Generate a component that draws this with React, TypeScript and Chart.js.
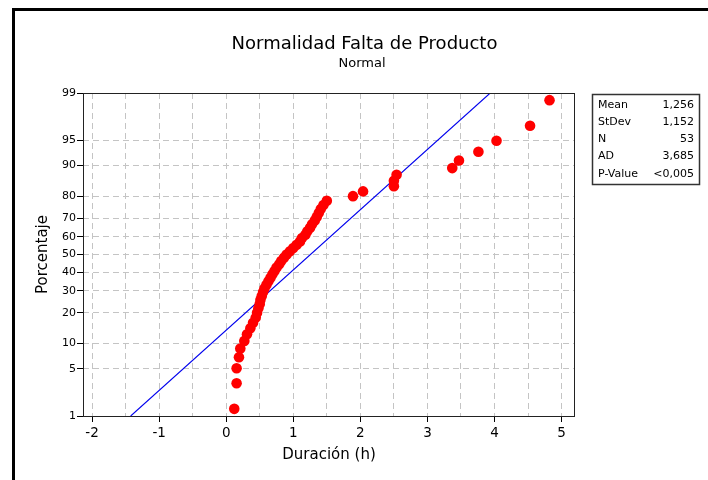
import React, { useEffect, useRef } from "react";
import { Chart, registerables } from "chart.js";

Chart.register(...registerables);

// ---- Data ----
const titleText = "Normalidad Falta de Producto";
const subtitleText = "Normal";
const xAxisTitle = "Duración (h)";
const yAxisTitle = "Porcentaje";

const percentTicks = [1, 5, 10, 20, 30, 40, 50, 60, 70, 80, 90, 95, 99];
const xTicks = [-2, -1.5, -1, -0.5, 0, 0.5, 1, 1.5, 2, 2.5, 3, 3.5, 4, 4.5, 5];

// sorted durations (h)
const durations = [
  0.12, 0.155, 0.155, 0.19, 0.21, 0.27, 0.31, 0.36, 0.4, 0.44,
  0.46, 0.48, 0.5, 0.51, 0.53, 0.55, 0.57, 0.6, 0.63, 0.66,
  0.69, 0.72, 0.75, 0.79, 0.82, 0.86, 0.9, 0.95, 1.0, 1.05,
  1.1, 1.13, 1.18, 1.21, 1.25, 1.28, 1.32, 1.35, 1.38, 1.41,
  1.45, 1.5, 1.89, 2.04, 2.5, 2.5, 2.54, 3.37, 3.47, 3.76,
  4.03, 4.53, 4.82,
];
// plotted percentages (median ranks)
const percents = [
  1.31, 3.18, 5.06, 6.93, 8.8, 10.67, 12.55, 14.42, 16.29, 18.16,
  20.04, 21.91, 23.78, 25.66, 27.53, 29.4, 31.27, 33.15, 35.02, 36.89,
  38.76, 40.64, 42.51, 44.38, 46.25, 48.13, 50.0, 51.87, 53.75, 55.62,
  57.49, 59.36, 61.24, 63.11, 64.98, 66.85, 68.73, 70.6, 72.47, 74.34,
  76.22, 78.09, 79.96, 81.84, 83.71, 85.58, 87.45, 89.33, 91.2, 93.07,
  94.94, 96.82, 98.69,
];

const statLabels = ["Mean", "StDev", "N", "AD", "P-Value"];
const statValues = ["1,256", "1,152", "53", "3,685", "<0,005"];
const fitMean = 1.256;
const fitStDev = 1.152;
const fitLinePercents = [1, 99];

const FONT = "'DejaVu Sans', sans-serif";

// inverse standard normal CDF (probability scale transform)
function invNorm(p: number): number {
  const a = [-3.969683028665376e1, 2.209460984245205e2, -2.759285104469687e2, 1.38357751867269e2, -3.066479806614716e1, 2.506628277459239];
  const b = [-5.447609879822406e1, 1.615858368580409e2, -1.556989798598866e2, 6.680131188771972e1, -1.328068155288572e1];
  const c = [-7.784894002430293e-3, -3.223964580411365e-1, -2.400758277161838, -2.549732539343734, 4.374664141464968, 2.938163982698783];
  const d = [7.784695709041462e-3, 3.224671290700398e-1, 2.445134137142996, 3.754408661907416];
  const pl = 0.02425;
  const ph = 1 - pl;
  let q: number;
  let r: number;
  if (p < pl) {
    q = Math.sqrt(-2 * Math.log(p));
    return (((((c[0] * q + c[1]) * q + c[2]) * q + c[3]) * q + c[4]) * q + c[5]) / ((((d[0] * q + d[1]) * q + d[2]) * q + d[3]) * q + 1);
  }
  if (p > ph) {
    q = Math.sqrt(-2 * Math.log(1 - p));
    return -(((((c[0] * q + c[1]) * q + c[2]) * q + c[3]) * q + c[4]) * q + c[5]) / ((((d[0] * q + d[1]) * q + d[2]) * q + d[3]) * q + 1);
  }
  q = p - 0.5;
  r = q * q;
  return ((((((a[0] * r + a[1]) * r + a[2]) * r + a[3]) * r + a[4]) * r + a[5]) * q) / (((((b[0] * r + b[1]) * r + b[2]) * r + b[3]) * r + b[4]) * r + 1);
}

const decorPlugin = {
  id: "decor",
  beforeDraw(chart: any) {
    const ctx = chart.ctx;
    ctx.save();
    ctx.fillStyle = "#ffffff";
    ctx.fillRect(0, 0, chart.width, chart.height);
    ctx.restore();
  },
  afterDraw(chart: any) {
    const ctx = chart.ctx;
    const area = chart.chartArea;
    ctx.save();
    // outer frame
    ctx.fillStyle = "#000";
    ctx.fillRect(12, 8, 3, chart.height - 8);
    ctx.fillRect(12, 8, chart.width - 12, 3);
    // plot frame
    ctx.strokeStyle = "#222";
    ctx.lineWidth = 1;
    ctx.strokeRect(Math.round(area.left) + 0.5, Math.round(area.top) + 0.5, Math.round(area.right - area.left) - 1, Math.round(area.bottom - area.top));
    // titles
    ctx.fillStyle = "#000";
    ctx.textAlign = "center";
    ctx.textBaseline = "middle";
    ctx.font = `18px ${FONT}`;
    ctx.fillText(titleText, 364.5, 44);
    ctx.font = `13px ${FONT}`;
    ctx.fillText(subtitleText, 362, 64);
    ctx.font = `15px ${FONT}`;
    ctx.fillText(xAxisTitle, (area.left + area.right) / 2, 455);
    ctx.save();
    ctx.translate(43, (area.top + area.bottom) / 2);
    ctx.rotate(-Math.PI / 2);
    ctx.fillText(yAxisTitle, 0, 0);
    ctx.restore();
    // stats box
    const bx = 592.5;
    const by = 94.5;
    const bw = 107;
    const bh = 90;
    ctx.strokeStyle = "#333";
    ctx.lineWidth = 1.5;
    ctx.strokeRect(bx, by, bw, bh);
    ctx.font = `11px ${FONT}`;
    ctx.fillStyle = "#000";
    statLabels.forEach((lab, i) => {
      const y = 105 + i * 17.2;
      ctx.textAlign = "left";
      ctx.fillText(lab, 598, y);
      ctx.textAlign = "right";
      ctx.fillText(statValues[i], 694, y);
    });
    ctx.restore();
  },
};

export default function App() {
  const ref = useRef<HTMLCanvasElement | null>(null);
  useEffect(() => {
    if (!ref.current) return;
    const chart = new Chart(ref.current, {
      type: "scatter",
      data: {
        datasets: [
          {
            label: "Datos",
            data: durations.map((x, i) => ({ x, y: invNorm(percents[i] / 100) })),
            backgroundColor: "#ff0000",
            borderWidth: 0,
            pointRadius: 5.3,
            pointHoverRadius: 5.3,
          },
          {
            label: "Ajuste",
            data: fitLinePercents.map((p) => {
              const z = invNorm(p / 100);
              return { x: fitMean + fitStDev * z, y: z };
            }),
            showLine: true,
            borderColor: "#0000ee",
            borderWidth: 1.1,
            pointRadius: 0,
            fill: false,
          },
        ],
      },
      options: {
        responsive: false,
        animation: false,
        devicePixelRatio: 1,
        layout: { padding: { left: 0, top: 93, right: 133, bottom: 0 } },
        plugins: {
          legend: { display: false },
          title: { display: false },
          tooltip: { enabled: false },
        },
        scales: {
          x: {
            type: "linear",
            min: -2.135,
            max: 5.2,
            afterBuildTicks: (scale: any) => {
              scale.ticks = xTicks.map((v) => ({ value: v }));
            },
            afterFit: (scale: any) => {
              scale.height = 64;
            },
            ticks: {
              autoSkip: false,
              maxRotation: 0,
              padding: 3,
              color: "#000",
              font: { family: FONT, size: 13.5 },
              callback: (v: any) => (Number.isInteger(v) ? String(v) : ""),
            },
            grid: {
              color: "#c4c4c4",
              lineWidth: 1,
              tickLength: 6,
              tickColor: (ctx: any) => (ctx.tick && Number.isInteger(ctx.tick.value) ? "#000" : "rgba(0,0,0,0)"),
              tickWidth: 1,
            },
            border: { display: false, dash: [6, 4] },
          },
          y: {
            type: "linear",
            min: invNorm(percentTicks[0] / 100),
            max: invNorm(percentTicks[percentTicks.length - 1] / 100),
            afterBuildTicks: (scale: any) => {
              scale.ticks = percentTicks.map((p) => ({ value: invNorm(p / 100) }));
            },
            afterFit: (scale: any) => {
              scale.width = 83;
            },
            ticks: {
              autoSkip: false,
              padding: 1,
              color: "#000",
              font: { family: FONT, size: 11 },
              callback: (_v: any, i: number) => String(percentTicks[i]),
            },
            grid: {
              color: "#c4c4c4",
              lineWidth: 1,
              tickLength: 6,
              tickColor: "#000",
              tickWidth: 1,
            },
            border: { display: false, dash: [6, 4] },
          },
        },
      },
      plugins: [decorPlugin],
    } as any);
    return () => chart.destroy();
  }, []);
  return (
    <div style={{ position: "absolute", left: 0, top: 0, width: 708, height: 480 }}>
      <canvas ref={ref} width={708} height={480} style={{ display: "block", width: 708, height: 480 }} />
    </div>
  );
}
